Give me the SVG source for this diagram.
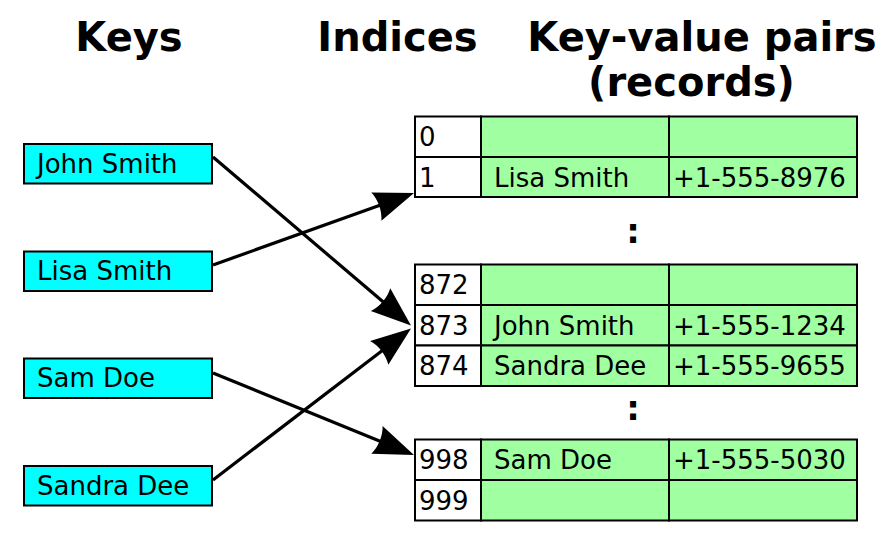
<svg xmlns="http://www.w3.org/2000/svg" width="893" height="537" viewBox="0 0 893 537">
<style>
text{font-family:"DejaVu Sans","Liberation Sans",sans-serif;fill:#000}
.title{font-size:40px;font-weight:bold;text-anchor:middle}
.t{font-size:26px}
.dots{font-size:34px;font-weight:bold;text-anchor:middle}
.key{fill:#00ffff;stroke:#000;stroke-width:2}
.idx{fill:#fff;stroke:#000;stroke-width:2}
.rec{fill:#a0ffa0;stroke:#000;stroke-width:2}
.conn line{stroke:#000;stroke-width:3.2;marker-end:url(#ah)}
</style>
<defs>
<marker id="ah" markerUnits="userSpaceOnUse" orient="auto" viewBox="-10 -20 50 40" markerWidth="50" markerHeight="40" refX="0" refY="0" overflow="visible">
<path d="M34,0 L-6,-15 C-2,-6 -2,6 -6,15 Z" fill="#000"/>
</marker>
</defs>
<rect width="893" height="537" fill="#fff"/>
<g id="titles">
<text class="title" x="129" y="51">Keys</text>
<text class="title" x="397.5" y="51">Indices</text>
<text class="title" x="702" y="51">Key-value pairs</text>
<text class="title" x="691.5" y="96">(records)</text>
</g>
<g id="key-john"><rect class="key" x="24" y="144" width="188" height="39.5"/><text class="t" x="37" y="172.5">John Smith</text></g>
<g id="key-lisa"><rect class="key" x="24" y="251.5" width="188" height="39.5"/><text class="t" x="37" y="280">Lisa Smith</text></g>
<g id="key-sam"><rect class="key" x="24" y="358.5" width="188" height="39.5"/><text class="t" x="37" y="387">Sam Doe</text></g>
<g id="key-sandra"><rect class="key" x="24" y="466" width="188" height="39.5"/><text class="t" x="37" y="494.5">Sandra Dee</text></g>
<g id="row-0"><rect class="idx" x="415" y="116.5" width="66" height="40.5"/><rect class="rec" x="481" y="116.5" width="188" height="40.5"/><rect class="rec" x="669" y="116.5" width="188" height="40.5"/><text class="t" x="419" y="146">0</text></g>
<g id="row-1"><rect class="idx" x="415" y="157" width="66" height="40"/><rect class="rec" x="481" y="157" width="188" height="40"/><rect class="rec" x="669" y="157" width="188" height="40"/><text class="t" x="419" y="186.5">1</text><text class="t" x="494" y="186.5">Lisa Smith</text><text class="t" x="673" y="186.5">+1-555-8976</text></g>
<text class="dots" x="633" y="243">:</text>
<g id="row-872"><rect class="idx" x="415" y="264.5" width="66" height="40.5"/><rect class="rec" x="481" y="264.5" width="188" height="40.5"/><rect class="rec" x="669" y="264.5" width="188" height="40.5"/><text class="t" x="419" y="294">872</text></g>
<g id="row-873"><rect class="idx" x="415" y="305" width="66" height="40.5"/><rect class="rec" x="481" y="305" width="188" height="40.5"/><rect class="rec" x="669" y="305" width="188" height="40.5"/><text class="t" x="419" y="334.5">873</text><text class="t" x="494" y="334.5">John Smith</text><text class="t" x="673" y="334.5">+1-555-1234</text></g>
<g id="row-874"><rect class="idx" x="415" y="345.5" width="66" height="40.5"/><rect class="rec" x="481" y="345.5" width="188" height="40.5"/><rect class="rec" x="669" y="345.5" width="188" height="40.5"/><text class="t" x="419" y="375">874</text><text class="t" x="494" y="375">Sandra Dee</text><text class="t" x="673" y="375">+1-555-9655</text></g>
<text class="dots" x="633" y="420">:</text>
<g id="row-998"><rect class="idx" x="415" y="439.5" width="66" height="40.5"/><rect class="rec" x="481" y="439.5" width="188" height="40.5"/><rect class="rec" x="669" y="439.5" width="188" height="40.5"/><text class="t" x="419" y="469">998</text><text class="t" x="494" y="469">Sam Doe</text><text class="t" x="673" y="469">+1-555-5030</text></g>
<g id="row-999"><rect class="idx" x="415" y="480" width="66" height="40.5"/><rect class="rec" x="481" y="480" width="188" height="40.5"/><rect class="rec" x="669" y="480" width="188" height="40.5"/><text class="t" x="419" y="509.5">999</text></g>
<g id="connectors" class="conn">
<line x1="213" y1="157" x2="385.1" y2="303.5"/>
<line x1="213" y1="265" x2="382" y2="204.5"/>
<line x1="213" y1="373" x2="382.5" y2="442.2"/>
<line x1="213" y1="480" x2="384" y2="349.2"/>
</g>
</svg>
